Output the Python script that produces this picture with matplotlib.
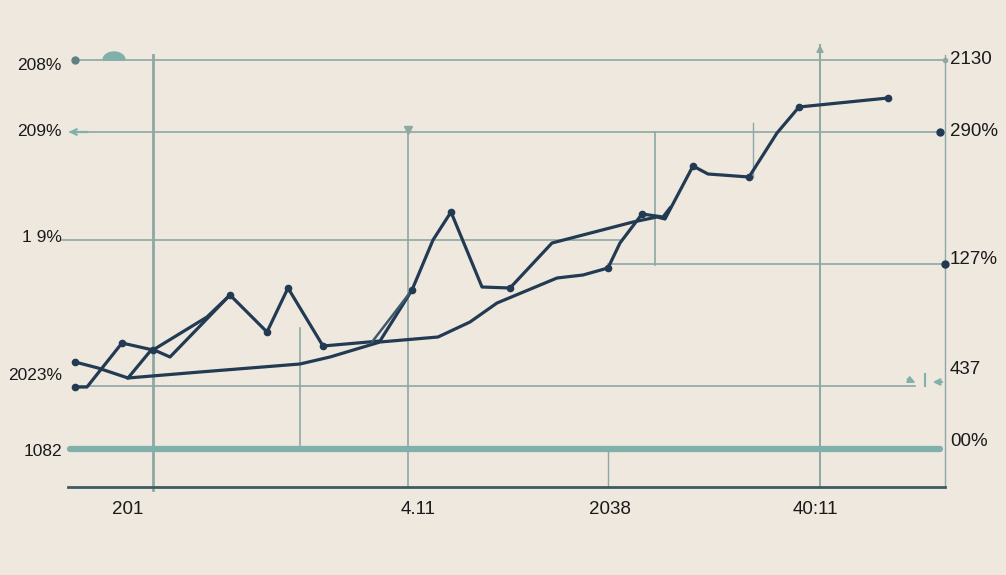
import matplotlib.pyplot as plt
import numpy as np

# chart is laid out on a 1006 x 575 grid (y grows downwards)
W, H = 1006, 575

# main zigzag series
line1_x = [75, 87, 122, 153, 207, 230, 267, 288, 323, 380, 412, 433, 451, 482, 510, 552, 633, 657, 665, 693, 708, 749, 777, 799, 888]
line1_y = [387, 387, 343, 350, 317, 295, 332, 288, 346, 341, 290, 240, 212, 287, 288, 243, 222, 217, 219, 166, 174, 177, 133, 107, 98]

# second, tangled series
line2_x = [75, 98, 128, 152, 170, 230]
line2_y = [362, 368, 378, 349, 357, 295]

# smooth lower trend
line3_x = [128, 152, 200, 300, 330, 380, 438, 470, 497, 557, 583, 608, 620, 642, 663, 670]
line3_y = [378, 376, 372, 364, 357, 342, 337, 322, 303, 278, 275, 268, 243, 214, 217, 208]

# short strand crossing near the 4.11 guide
line4_x = [372, 412]
line4_y = [342, 290]

dot_x = [75, 75, 122, 153, 230, 267, 288, 323, 412, 451, 510, 608, 642, 693, 749, 799, 888]
dot_y = [362, 387, 343, 350, 295, 332, 288, 346, 290, 212, 288, 268, 214, 166, 177, 107, 98]

# horizontal guides: y, x start, x end
hgrid_y = [60, 132, 240, 264, 386]
hgrid_x0 = [75, 70, 62, 608, 78]
hgrid_x1 = [945, 940, 620, 945, 915]

# vertical guides: x, y top, y bottom
vgrid_x = [153, 408, 300, 608, 820, 945, 655, 753]
vgrid_y0 = [55, 130, 328, 452, 45, 55, 132, 123]
vgrid_y1 = [490, 487, 445, 487, 487, 487, 265, 177]
vgrid_lw = [2.0, 1.2, 1.2, 1.0, 1.4, 1.0, 1.2, 1.0]

left_labels = ["208%", "209%", "1 9%", "2023%", "1082"]
left_y = [66, 132, 237, 375, 451]
right_labels = ["2130", "290%", "127%", "437", "00%"]
right_y = [60, 132, 260, 370, 441]
bottom_labels = ["201", "4.11", "2038", "40:11"]
bottom_x = [128, 418, 610, 815]

bg = "#eee8df"
navy = "#223a52"
teal = "#7fb0aa"
guide = "#8ea8a3"

fig = plt.figure(figsize=(W / 100, H / 100), dpi=100, facecolor=bg)
ax = fig.add_axes([0, 0, 1, 1])
ax.set_facecolor(bg)
ax.set_xlim(0, W)
ax.set_ylim(H, 0)
ax.axis("off")

for y, a, b in zip(hgrid_y, hgrid_x0, hgrid_x1):
    ax.plot([a, b], [y, y], color=guide, lw=1.2, zorder=1)
for x, a, b, lw in zip(vgrid_x, vgrid_y0, vgrid_y1, vgrid_lw):
    ax.plot([x, x], [a, b], color=guide, lw=lw, zorder=1)

# guide ends
ax.plot([75], [60], "o", color="#5f7f80", ms=5, zorder=2)
ax.plot([940], [132], "o", color=navy, ms=5, zorder=2)
ax.plot([945], [60], "o", color=guide, ms=3, zorder=2)
ax.plot([945], [264], "o", color=navy, ms=5, zorder=2)
ax.annotate("", xy=(66, 132), xytext=(90, 132),
            arrowprops=dict(arrowstyle="->", color=teal, lw=1.6))
ax.annotate("", xy=(820, 42), xytext=(820, 55),
            arrowprops=dict(arrowstyle="-|>", color=guide, lw=1.2))
ax.plot([408], [130], "v", color=guide, ms=6)
ax.annotate("", xy=(918, 384), xytext=(905, 378),
            arrowprops=dict(arrowstyle="-|>", color=teal, lw=1.4))
ax.annotate("", xy=(930, 382), xytext=(945, 382),
            arrowprops=dict(arrowstyle="-|>", color=teal, lw=1.4))
ax.plot([925, 925], [374, 386], color=teal, lw=1.5)

# bump on top guide
th = np.linspace(0, np.pi, 40)
ax.fill(114 + 11 * np.cos(th), 60 - 8 * np.sin(th), color=teal, zorder=2)

# thick teal band and the x axis
ax.plot([70, 940], [449, 449], color=teal, lw=4.5, solid_capstyle="round", zorder=2)
ax.plot([68, 945], [487, 487], color="#3e5a63", lw=2, zorder=2)

ax.plot(line1_x, line1_y, color=navy, lw=2.3, zorder=3)
ax.plot(line2_x, line2_y, color=navy, lw=2.3, zorder=3)
ax.plot(line3_x, line3_y, color=navy, lw=2.3, zorder=3)
ax.plot(line4_x, line4_y, color="#3d5a6a", lw=1.8, zorder=3)
ax.plot(dot_x, dot_y, "o", color=navy, ms=4.5, zorder=4)

for t, y in zip(left_labels, left_y):
    ax.text(62, y, t, ha="right", va="center", fontsize=12.5, color="#1a1a1a",
            family="Liberation Sans")
for t, y in zip(right_labels, right_y):
    ax.text(950, y, t, ha="left", va="center", fontsize=13.5, color="#1a1a1a",
            family="Liberation Sans")
for t, x in zip(bottom_labels, bottom_x):
    ax.text(x, 510, t, ha="center", va="center", fontsize=13.5, color="#1a1a1a",
            family="Liberation Sans")

fig.savefig("out.png", dpi=100, facecolor=bg)
